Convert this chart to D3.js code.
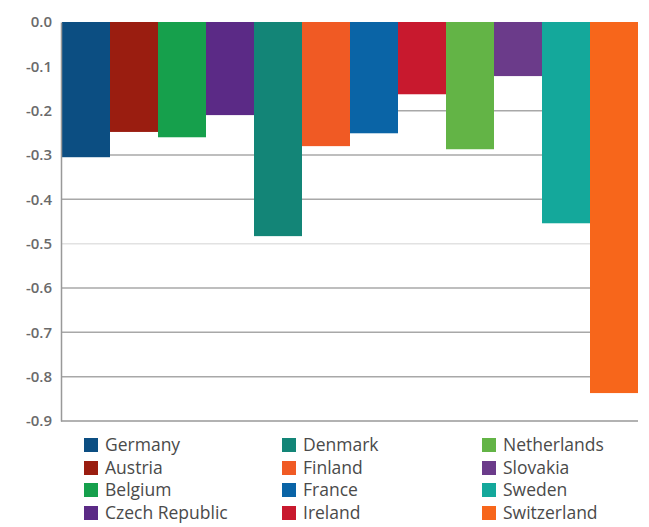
<!DOCTYPE html>
<html>
<head>
<meta charset="utf-8">
<script src="https://cdn.jsdelivr.net/npm/d3@7"></script>
<style>
  html, body { margin: 0; padding: 0; background: #ffffff; }
  svg { display: block; }
</style>
</head>
<body>
<svg id="chart" width="649" height="527"></svg>
<script>
const countries = ["Germany", "Austria", "Belgium", "Czech Republic", "Denmark", "Finland",
                   "France", "Ireland", "Netherlands", "Slovakia", "Sweden", "Switzerland"];
const values = [-0.305, -0.248, -0.26, -0.21, -0.483, -0.28, -0.251, -0.163, -0.287, -0.122, -0.454, -0.837];
const colors = ["#0c4e82", "#9a1d10", "#16a04c", "#5b2a86", "#138577", "#f05a24",
                "#0a64a6", "#c8192e", "#63b446", "#6b3b8a", "#14a89b", "#f7661b"];
const yTicks = [0, -0.1, -0.2, -0.3, -0.4, -0.5, -0.6, -0.7, -0.8, -0.9];

const svg = d3.select("#chart");
const mLeft = 61, mRight = 638, mTop = 22, mBottom = 421;

const x = d3.scaleBand().domain(countries).range([mLeft + 1, mRight]).padding(0);
const y = d3.scaleLinear().domain([-0.9, 0]).range([mBottom, mTop]);

// gridlines
svg.append("g").selectAll("line")
  .data(yTicks.filter(d => d !== 0 && d !== -0.9))
  .join("line")
  .attr("x1", mLeft).attr("x2", mRight)
  .attr("y1", d => y(d)).attr("y2", d => y(d))
  .attr("stroke", d => Math.abs(d + 0.5) < 1e-9 ? "#e2e2e2" : "#a8a8a8")
  .attr("stroke-width", 1.5);

// bars
svg.append("g").selectAll("rect")
  .data(countries)
  .join("rect")
  .attr("x", d => x(d))
  .attr("width", x.bandwidth())
  .attr("y", y(0))
  .attr("height", (d, i) => y(values[i]) - y(0))
  .attr("fill", (d, i) => colors[i]);

// y axis
const yAxis = d3.axisLeft(y).tickValues(yTicks).tickSize(0).tickPadding(9)
  .tickFormat(d => d3.format(".1f")(d).replace("\u2212", "-"));
const gy = svg.append("g").attr("transform", `translate(${mLeft},0)`).call(yAxis);
gy.select(".domain").attr("stroke", "#999").attr("stroke-width", 1.5);
gy.selectAll("text")
  .attr("font-family", "'Open Sans', sans-serif")
  .attr("font-size", 15)
  .attr("font-weight", 600)
  .attr("fill", "#6a6a6a");

// bottom axis line
svg.append("line")
  .attr("x1", mLeft).attr("x2", mRight)
  .attr("y1", mBottom).attr("y2", mBottom)
  .attr("stroke", "#999").attr("stroke-width", 1.5);

// legend
const colX = [84, 282, 482];
const rowY = [445, 468, 490, 513];
const legend = svg.append("g");
countries.forEach((c, i) => {
  const col = Math.floor(i / 4), row = i % 4;
  const g = legend.append("g").attr("transform", `translate(${colX[col]},${rowY[row]})`);
  g.append("rect").attr("x", 0).attr("y", -7).attr("width", 14).attr("height", 14).attr("fill", colors[i]);
  g.append("text")
    .attr("x", 21).attr("y", 0).attr("dy", "0.35em")
    .attr("font-family", "'Open Sans', sans-serif")
    .attr("font-size", 17.5)
    .attr("fill", "#4a4a4a")
    .text(c);
});
</script>
</body>
</html>
